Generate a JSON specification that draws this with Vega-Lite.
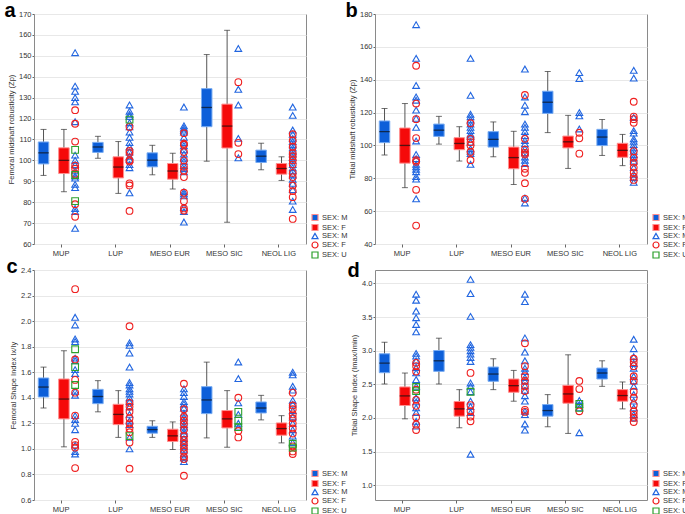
{
"$schema":"https://vega.github.io/schema/vega-lite/v6.json",
"padding":{"left":3,"top":0,"right":0,"bottom":0},
"datasets":{
"boxA":[
{"g":"MUP","s":"M","lo":92.8,"q1":98.3,"md":103.6,"q3":108.8,"hi":114.8},
{"g":"MUP","s":"F","lo":85,"q1":93.7,"md":100,"q3":106,"hi":114.8},
{"g":"LUP","s":"M","lo":101,"q1":103.8,"md":106.4,"q3":108.6,"hi":111.5},
{"g":"LUP","s":"F","lo":84.2,"q1":91.6,"md":96.8,"q3":101.7,"hi":109},
{"g":"MESO EUR","s":"M","lo":93.1,"q1":96.9,"md":100.1,"q3":103.6,"hi":107.2},
{"g":"MESO EUR","s":"F","lo":86.3,"q1":91,"md":94.9,"q3":98.5,"hi":103.4},
{"g":"MESO SIC","s":"M","lo":99.6,"q1":116.1,"md":125.3,"q3":134.3,"hi":150.6},
{"g":"MESO SIC","s":"F","lo":70.4,"q1":105.9,"md":116.4,"q3":126.9,"hi":162.2},
{"g":"NEOL LIG","s":"M","lo":95.5,"q1":99,"md":102,"q3":104.9,"hi":108.2},
{"g":"NEOL LIG","s":"F","lo":90.4,"q1":93.4,"md":96.1,"q3":98.5,"hi":101.7}],
"boxB":[
{"g":"MUP","s":"M","lo":94.2,"q1":101.7,"md":108.4,"q3":114.9,"hi":122.5},
{"g":"MUP","s":"F","lo":74.3,"q1":89.2,"md":100,"q3":110.6,"hi":125.5},
{"g":"LUP","s":"M","lo":100.8,"q1":105.5,"md":109.3,"q3":113,"hi":117.7},
{"g":"LUP","s":"F","lo":90.5,"q1":97.4,"md":101.2,"q3":104.7,"hi":111.4},
{"g":"MESO EUR","s":"M","lo":93.1,"q1":99,"md":103.7,"q3":108.4,"hi":114.3},
{"g":"MESO EUR","s":"F","lo":76.2,"q1":85.8,"md":92.6,"q3":99,"hi":108.6},
{"g":"MESO SIC","s":"M","lo":107.8,"q1":119.5,"md":126.3,"q3":133,"hi":145},
{"g":"MESO SIC","s":"F","lo":86,"q1":98.5,"md":102.2,"q3":105.7,"hi":118.3},
{"g":"NEOL LIG","s":"M","lo":93.9,"q1":99.9,"md":105.1,"q3":109.8,"hi":115.8},
{"g":"NEOL LIG","s":"F","lo":87.7,"q1":92.8,"md":97,"q3":101.3,"hi":106.7}],
"boxC":[
{"g":"MUP","s":"M","lo":1.32,"q1":1.406,"md":1.484,"q3":1.555,"hi":1.64},
{"g":"MUP","s":"F","lo":1.016,"q1":1.235,"md":1.39,"q3":1.547,"hi":1.768},
{"g":"LUP","s":"M","lo":1.29,"q1":1.354,"md":1.41,"q3":1.466,"hi":1.534},
{"g":"LUP","s":"F","lo":1.09,"q1":1.19,"md":1.27,"q3":1.349,"hi":1.456},
{"g":"MESO EUR","s":"M","lo":1.09,"q1":1.123,"md":1.151,"q3":1.177,"hi":1.22},
{"g":"MESO EUR","s":"F","lo":0.995,"q1":1.058,"md":1.102,"q3":1.154,"hi":1.211},
{"g":"MESO SIC","s":"M","lo":1.086,"q1":1.276,"md":1.383,"q3":1.487,"hi":1.679},
{"g":"MESO SIC","s":"F","lo":1.013,"q1":1.164,"md":1.235,"q3":1.3,"hi":1.456},
{"g":"NEOL LIG","s":"M","lo":1.227,"q1":1.281,"md":1.32,"q3":1.367,"hi":1.419},
{"g":"NEOL LIG","s":"F","lo":1.047,"q1":1.107,"md":1.159,"q3":1.203,"hi":1.26}],
"boxD":[
{"g":"MUP","s":"M","lo":2.505,"q1":2.673,"md":2.816,"q3":2.954,"hi":3.127},
{"g":"MUP","s":"F","lo":1.987,"q1":2.185,"md":2.328,"q3":2.461,"hi":2.668},
{"g":"LUP","s":"M","lo":2.505,"q1":2.693,"md":2.85,"q3":3.003,"hi":3.186},
{"g":"LUP","s":"F","lo":1.854,"q1":2.027,"md":2.135,"q3":2.244,"hi":2.421},
{"g":"MESO EUR","s":"M","lo":2.421,"q1":2.545,"md":2.653,"q3":2.757,"hi":2.88},
{"g":"MESO EUR","s":"F","lo":2.249,"q1":2.382,"md":2.48,"q3":2.579,"hi":2.707},
{"g":"MESO SIC","s":"M","lo":1.869,"q1":2.027,"md":2.11,"q3":2.199,"hi":2.347},
{"g":"MESO SIC","s":"F","lo":1.77,"q1":2.219,"md":2.357,"q3":2.485,"hi":2.939},
{"g":"NEOL LIG","s":"M","lo":2.47,"q1":2.579,"md":2.668,"q3":2.742,"hi":2.85},
{"g":"NEOL LIG","s":"F","lo":2.135,"q1":2.249,"md":2.333,"q3":2.421,"hi":2.535}],
"ptsA":[
{"g":"MUP","s":"M","v":151.5},{"g":"MUP","s":"M","v":135.5},{"g":"MUP","s":"M","v":133},{"g":"MUP","s":"M","v":130},{"g":"MUP","s":"M","v":128},{"g":"MUP","s":"M","v":118.5},{"g":"MUP","s":"M","v":102.5},{"g":"MUP","s":"M","v":100},{"g":"MUP","s":"M","v":98},{"g":"MUP","s":"M","v":95},{"g":"MUP","s":"M","v":92.5},{"g":"MUP","s":"M","v":91.5},{"g":"MUP","s":"M","v":88.5},{"g":"MUP","s":"M","v":87},{"g":"MUP","s":"M","v":77},{"g":"MUP","s":"M","v":75.5},{"g":"MUP","s":"M","v":67.5},
{"g":"MUP","s":"F","v":124},{"g":"MUP","s":"F","v":117.5},{"g":"MUP","s":"F","v":109},{"g":"MUP","s":"F","v":97.5},{"g":"MUP","s":"F","v":96},{"g":"MUP","s":"F","v":93.5},{"g":"MUP","s":"F","v":79},{"g":"MUP","s":"F","v":73},
{"g":"MUP","s":"U","v":105},{"g":"MUP","s":"U","v":93},{"g":"MUP","s":"U","v":80.5},
{"g":"LUP","s":"M","v":126.5},{"g":"LUP","s":"M","v":123.5},{"g":"LUP","s":"M","v":122},{"g":"LUP","s":"M","v":121},{"g":"LUP","s":"M","v":118},{"g":"LUP","s":"M","v":116},{"g":"LUP","s":"M","v":113.5},{"g":"LUP","s":"M","v":111},{"g":"LUP","s":"M","v":108.5},{"g":"LUP","s":"M","v":106.5},{"g":"LUP","s":"M","v":104},{"g":"LUP","s":"M","v":102},{"g":"LUP","s":"M","v":100.5},{"g":"LUP","s":"M","v":98},{"g":"LUP","s":"M","v":96.5},{"g":"LUP","s":"M","v":84.5},
{"g":"LUP","s":"F","v":116},{"g":"LUP","s":"F","v":104.5},{"g":"LUP","s":"F","v":103.5},{"g":"LUP","s":"F","v":100},{"g":"LUP","s":"F","v":99.5},{"g":"LUP","s":"F","v":89},{"g":"LUP","s":"F","v":88},{"g":"LUP","s":"F","v":75.8},
{"g":"LUP","s":"U","v":119.5},
{"g":"MESO EUR","s":"M","v":125.5},{"g":"MESO EUR","s":"M","v":116.5},{"g":"MESO EUR","s":"M","v":115.5},{"g":"MESO EUR","s":"M","v":114.5},{"g":"MESO EUR","s":"M","v":113.5},{"g":"MESO EUR","s":"M","v":111},{"g":"MESO EUR","s":"M","v":108.5},{"g":"MESO EUR","s":"M","v":107},{"g":"MESO EUR","s":"M","v":105},{"g":"MESO EUR","s":"M","v":103},{"g":"MESO EUR","s":"M","v":101},{"g":"MESO EUR","s":"M","v":99.5},{"g":"MESO EUR","s":"M","v":97.5},{"g":"MESO EUR","s":"M","v":96},{"g":"MESO EUR","s":"M","v":94.5},{"g":"MESO EUR","s":"M","v":85},{"g":"MESO EUR","s":"M","v":84},{"g":"MESO EUR","s":"M","v":83},{"g":"MESO EUR","s":"M","v":77.5},{"g":"MESO EUR","s":"M","v":75.5},{"g":"MESO EUR","s":"M","v":70.5},
{"g":"MESO EUR","s":"F","v":113},{"g":"MESO EUR","s":"F","v":108},{"g":"MESO EUR","s":"F","v":107.5},{"g":"MESO EUR","s":"F","v":104},{"g":"MESO EUR","s":"F","v":100},{"g":"MESO EUR","s":"F","v":97},{"g":"MESO EUR","s":"F","v":95},{"g":"MESO EUR","s":"F","v":92},{"g":"MESO EUR","s":"F","v":84.5},{"g":"MESO EUR","s":"F","v":80.5},{"g":"MESO EUR","s":"F","v":77},{"g":"MESO EUR","s":"F","v":76},
{"g":"MESO SIC","s":"M","v":153.5},{"g":"MESO SIC","s":"M","v":134},{"g":"MESO SIC","s":"M","v":126.5},{"g":"MESO SIC","s":"M","v":110.5},{"g":"MESO SIC","s":"M","v":101.2},
{"g":"MESO SIC","s":"F","v":137.4},{"g":"MESO SIC","s":"F","v":108.4},{"g":"MESO SIC","s":"F","v":103},
{"g":"NEOL LIG","s":"M","v":125.5},{"g":"NEOL LIG","s":"M","v":121.5},{"g":"NEOL LIG","s":"M","v":114.5},{"g":"NEOL LIG","s":"M","v":112.5},{"g":"NEOL LIG","s":"M","v":110.5},{"g":"NEOL LIG","s":"M","v":109},{"g":"NEOL LIG","s":"M","v":107.5},{"g":"NEOL LIG","s":"M","v":106},{"g":"NEOL LIG","s":"M","v":104.5},{"g":"NEOL LIG","s":"M","v":103},{"g":"NEOL LIG","s":"M","v":101.5},{"g":"NEOL LIG","s":"M","v":100},{"g":"NEOL LIG","s":"M","v":98},{"g":"NEOL LIG","s":"M","v":96.5},{"g":"NEOL LIG","s":"M","v":95},{"g":"NEOL LIG","s":"M","v":93},{"g":"NEOL LIG","s":"M","v":91},{"g":"NEOL LIG","s":"M","v":89},{"g":"NEOL LIG","s":"M","v":86},{"g":"NEOL LIG","s":"M","v":80.5},{"g":"NEOL LIG","s":"M","v":76.5},
{"g":"NEOL LIG","s":"F","v":112.5},{"g":"NEOL LIG","s":"F","v":109.5},{"g":"NEOL LIG","s":"F","v":106.5},{"g":"NEOL LIG","s":"F","v":103.5},{"g":"NEOL LIG","s":"F","v":102},{"g":"NEOL LIG","s":"F","v":100},{"g":"NEOL LIG","s":"F","v":98},{"g":"NEOL LIG","s":"F","v":94},{"g":"NEOL LIG","s":"F","v":92},{"g":"NEOL LIG","s":"F","v":88},{"g":"NEOL LIG","s":"F","v":85.3},{"g":"NEOL LIG","s":"F","v":82.4},{"g":"NEOL LIG","s":"F","v":72}],
"ptsB":[
{"g":"MUP","s":"M","v":173.5},{"g":"MUP","s":"M","v":153},{"g":"MUP","s":"M","v":136.5},{"g":"MUP","s":"M","v":129.5},{"g":"MUP","s":"M","v":127.5},{"g":"MUP","s":"M","v":121.5},{"g":"MUP","s":"M","v":116.5},{"g":"MUP","s":"M","v":111},{"g":"MUP","s":"M","v":102.7},{"g":"MUP","s":"M","v":94.5},{"g":"MUP","s":"M","v":92},{"g":"MUP","s":"M","v":88.5},{"g":"MUP","s":"M","v":87},{"g":"MUP","s":"M","v":85.5},{"g":"MUP","s":"M","v":84},{"g":"MUP","s":"M","v":81},{"g":"MUP","s":"M","v":79.5},{"g":"MUP","s":"M","v":67.5},
{"g":"MUP","s":"F","v":148.5},{"g":"MUP","s":"F","v":125.5},{"g":"MUP","s":"F","v":116},{"g":"MUP","s":"F","v":104.5},{"g":"MUP","s":"F","v":91},{"g":"MUP","s":"F","v":90},{"g":"MUP","s":"F","v":73},{"g":"MUP","s":"F","v":51.2},
{"g":"LUP","s":"M","v":153},{"g":"LUP","s":"M","v":130.5},{"g":"LUP","s":"M","v":119},{"g":"LUP","s":"M","v":117.5},{"g":"LUP","s":"M","v":115.5},{"g":"LUP","s":"M","v":113},{"g":"LUP","s":"M","v":111},{"g":"LUP","s":"M","v":109},{"g":"LUP","s":"M","v":107},{"g":"LUP","s":"M","v":105.5},{"g":"LUP","s":"M","v":102},{"g":"LUP","s":"M","v":98},{"g":"LUP","s":"M","v":96.5},{"g":"LUP","s":"M","v":95},{"g":"LUP","s":"M","v":88.5},
{"g":"LUP","s":"F","v":113.5},{"g":"LUP","s":"F","v":104},{"g":"LUP","s":"F","v":102},{"g":"LUP","s":"F","v":100},{"g":"LUP","s":"F","v":96},{"g":"LUP","s":"F","v":91},
{"g":"MESO EUR","s":"M","v":146.5},{"g":"MESO EUR","s":"M","v":129.5},{"g":"MESO EUR","s":"M","v":124.5},{"g":"MESO EUR","s":"M","v":120.5},{"g":"MESO EUR","s":"M","v":113},{"g":"MESO EUR","s":"M","v":111},{"g":"MESO EUR","s":"M","v":108.5},{"g":"MESO EUR","s":"M","v":106},{"g":"MESO EUR","s":"M","v":103},{"g":"MESO EUR","s":"M","v":101},{"g":"MESO EUR","s":"M","v":98},{"g":"MESO EUR","s":"M","v":95.5},{"g":"MESO EUR","s":"M","v":93},{"g":"MESO EUR","s":"M","v":91},{"g":"MESO EUR","s":"M","v":89},{"g":"MESO EUR","s":"M","v":68},{"g":"MESO EUR","s":"M","v":65},
{"g":"MESO EUR","s":"F","v":130.7},{"g":"MESO EUR","s":"F","v":104},{"g":"MESO EUR","s":"F","v":97.5},{"g":"MESO EUR","s":"F","v":95.5},{"g":"MESO EUR","s":"F","v":94.5},{"g":"MESO EUR","s":"F","v":85.8},{"g":"MESO EUR","s":"F","v":83.3},{"g":"MESO EUR","s":"F","v":77},{"g":"MESO EUR","s":"F","v":67.5},
{"g":"MESO SIC","s":"M","v":144.3},{"g":"MESO SIC","s":"M","v":140.7},{"g":"MESO SIC","s":"M","v":120},{"g":"MESO SIC","s":"M","v":118},{"g":"MESO SIC","s":"M","v":110},
{"g":"MESO SIC","s":"F","v":107.7},{"g":"MESO SIC","s":"F","v":104.3},{"g":"MESO SIC","s":"F","v":95},
{"g":"NEOL LIG","s":"M","v":145.7},{"g":"NEOL LIG","s":"M","v":141},{"g":"NEOL LIG","s":"M","v":117},{"g":"NEOL LIG","s":"M","v":109},{"g":"NEOL LIG","s":"M","v":107.5},{"g":"NEOL LIG","s":"M","v":104},{"g":"NEOL LIG","s":"M","v":102.5},{"g":"NEOL LIG","s":"M","v":100.5},{"g":"NEOL LIG","s":"M","v":98.5},{"g":"NEOL LIG","s":"M","v":96.5},{"g":"NEOL LIG","s":"M","v":94.5},{"g":"NEOL LIG","s":"M","v":92.5},{"g":"NEOL LIG","s":"M","v":90.5},{"g":"NEOL LIG","s":"M","v":86.5},{"g":"NEOL LIG","s":"M","v":82.5},{"g":"NEOL LIG","s":"M","v":80.5},{"g":"NEOL LIG","s":"M","v":77.5},
{"g":"NEOL LIG","s":"F","v":126.6},{"g":"NEOL LIG","s":"F","v":117.5},{"g":"NEOL LIG","s":"F","v":116},{"g":"NEOL LIG","s":"F","v":113.8},{"g":"NEOL LIG","s":"F","v":96.5},{"g":"NEOL LIG","s":"F","v":92.5},{"g":"NEOL LIG","s":"F","v":89.5},{"g":"NEOL LIG","s":"F","v":86.5},{"g":"NEOL LIG","s":"F","v":83.5},{"g":"NEOL LIG","s":"F","v":81},{"g":"NEOL LIG","s":"F","v":79}],
"ptsC":[
{"g":"MUP","s":"M","v":2.03},{"g":"MUP","s":"M","v":1.97},{"g":"MUP","s":"M","v":1.86},{"g":"MUP","s":"M","v":1.84},{"g":"MUP","s":"M","v":1.71},{"g":"MUP","s":"M","v":1.69},{"g":"MUP","s":"M","v":1.62},{"g":"MUP","s":"M","v":1.59},{"g":"MUP","s":"M","v":1.45},{"g":"MUP","s":"M","v":1.42},{"g":"MUP","s":"M","v":1.26},{"g":"MUP","s":"M","v":1.23},{"g":"MUP","s":"M","v":1.2},{"g":"MUP","s":"M","v":1.15},{"g":"MUP","s":"M","v":1.03},{"g":"MUP","s":"M","v":0.98},{"g":"MUP","s":"M","v":0.96},
{"g":"MUP","s":"F","v":2.25},{"g":"MUP","s":"F","v":1.7},{"g":"MUP","s":"F","v":1.54},{"g":"MUP","s":"F","v":1.44},{"g":"MUP","s":"F","v":1.26},{"g":"MUP","s":"F","v":1.055},{"g":"MUP","s":"F","v":1.03},{"g":"MUP","s":"F","v":1.01},{"g":"MUP","s":"F","v":0.85},
{"g":"MUP","s":"U","v":1.78},{"g":"MUP","s":"U","v":1.64},{"g":"MUP","s":"U","v":1.5},
{"g":"LUP","s":"M","v":1.83},{"g":"LUP","s":"M","v":1.81},{"g":"LUP","s":"M","v":1.75},{"g":"LUP","s":"M","v":1.64},{"g":"LUP","s":"M","v":1.52},{"g":"LUP","s":"M","v":1.5},{"g":"LUP","s":"M","v":1.47},{"g":"LUP","s":"M","v":1.45},{"g":"LUP","s":"M","v":1.43},{"g":"LUP","s":"M","v":1.4},{"g":"LUP","s":"M","v":1.37},{"g":"LUP","s":"M","v":1.33},{"g":"LUP","s":"M","v":1.27},{"g":"LUP","s":"M","v":1.22},{"g":"LUP","s":"M","v":1.19},{"g":"LUP","s":"M","v":1.09},{"g":"LUP","s":"M","v":1.0},
{"g":"LUP","s":"F","v":1.96},{"g":"LUP","s":"F","v":1.36},{"g":"LUP","s":"F","v":1.33},{"g":"LUP","s":"F","v":1.29},{"g":"LUP","s":"F","v":1.24},{"g":"LUP","s":"F","v":1.2},{"g":"LUP","s":"F","v":1.16},{"g":"LUP","s":"F","v":1.13},{"g":"LUP","s":"F","v":1.05},{"g":"LUP","s":"F","v":0.845},
{"g":"LUP","s":"U","v":1.1},
{"g":"MESO EUR","s":"M","v":1.47},{"g":"MESO EUR","s":"M","v":1.44},{"g":"MESO EUR","s":"M","v":1.41},{"g":"MESO EUR","s":"M","v":1.37},{"g":"MESO EUR","s":"M","v":1.35},{"g":"MESO EUR","s":"M","v":1.32},{"g":"MESO EUR","s":"M","v":1.28},{"g":"MESO EUR","s":"M","v":1.25},{"g":"MESO EUR","s":"M","v":1.22},{"g":"MESO EUR","s":"M","v":1.19},{"g":"MESO EUR","s":"M","v":1.17},{"g":"MESO EUR","s":"M","v":1.14},{"g":"MESO EUR","s":"M","v":1.12},{"g":"MESO EUR","s":"M","v":1.08},{"g":"MESO EUR","s":"M","v":1.05},{"g":"MESO EUR","s":"M","v":1.02},{"g":"MESO EUR","s":"M","v":0.99},{"g":"MESO EUR","s":"M","v":0.96},{"g":"MESO EUR","s":"M","v":0.93},{"g":"MESO EUR","s":"M","v":0.9},
{"g":"MESO EUR","s":"F","v":1.51},{"g":"MESO EUR","s":"F","v":1.31},{"g":"MESO EUR","s":"F","v":1.25},{"g":"MESO EUR","s":"F","v":1.22},{"g":"MESO EUR","s":"F","v":1.19},{"g":"MESO EUR","s":"F","v":1.15},{"g":"MESO EUR","s":"F","v":1.1},{"g":"MESO EUR","s":"F","v":1.07},{"g":"MESO EUR","s":"F","v":1.04},{"g":"MESO EUR","s":"F","v":1.01},{"g":"MESO EUR","s":"F","v":0.98},{"g":"MESO EUR","s":"F","v":0.94},{"g":"MESO EUR","s":"F","v":0.92},{"g":"MESO EUR","s":"F","v":0.79},
{"g":"MESO SIC","s":"M","v":1.68},{"g":"MESO SIC","s":"M","v":1.55},{"g":"MESO SIC","s":"M","v":1.36},{"g":"MESO SIC","s":"M","v":1.27},{"g":"MESO SIC","s":"M","v":1.2},{"g":"MESO SIC","s":"M","v":1.17},
{"g":"MESO SIC","s":"F","v":1.4},{"g":"MESO SIC","s":"F","v":1.14},{"g":"MESO SIC","s":"F","v":1.09},
{"g":"MESO SIC","s":"U","v":1.29},{"g":"MESO SIC","s":"U","v":1.22},{"g":"MESO SIC","s":"U","v":1.17},
{"g":"NEOL LIG","s":"M","v":1.6},{"g":"NEOL LIG","s":"M","v":1.58},{"g":"NEOL LIG","s":"M","v":1.49},{"g":"NEOL LIG","s":"M","v":1.46},{"g":"NEOL LIG","s":"M","v":1.38},{"g":"NEOL LIG","s":"M","v":1.35},{"g":"NEOL LIG","s":"M","v":1.3},{"g":"NEOL LIG","s":"M","v":1.25},{"g":"NEOL LIG","s":"M","v":1.2},{"g":"NEOL LIG","s":"M","v":1.15},{"g":"NEOL LIG","s":"M","v":1.1},{"g":"NEOL LIG","s":"M","v":1.05},
{"g":"NEOL LIG","s":"F","v":1.44},{"g":"NEOL LIG","s":"F","v":1.34},{"g":"NEOL LIG","s":"F","v":1.31},{"g":"NEOL LIG","s":"F","v":1.27},{"g":"NEOL LIG","s":"F","v":1.24},{"g":"NEOL LIG","s":"F","v":1.2},{"g":"NEOL LIG","s":"F","v":1.16},{"g":"NEOL LIG","s":"F","v":1.12},{"g":"NEOL LIG","s":"F","v":1.02},{"g":"NEOL LIG","s":"F","v":0.98},{"g":"NEOL LIG","s":"F","v":0.96},
{"g":"NEOL LIG","s":"U","v":1.04},{"g":"NEOL LIG","s":"U","v":1.01}],
"ptsD":[
{"g":"MUP","s":"M","v":3.84},{"g":"MUP","s":"M","v":3.75},{"g":"MUP","s":"M","v":3.59},{"g":"MUP","s":"M","v":3.49},{"g":"MUP","s":"M","v":3.39},{"g":"MUP","s":"M","v":3.28},{"g":"MUP","s":"M","v":2.96},{"g":"MUP","s":"M","v":2.92},{"g":"MUP","s":"M","v":2.85},{"g":"MUP","s":"M","v":2.75},{"g":"MUP","s":"M","v":2.67},{"g":"MUP","s":"M","v":2.57},{"g":"MUP","s":"M","v":2.47},{"g":"MUP","s":"M","v":2.3},{"g":"MUP","s":"M","v":2.24},{"g":"MUP","s":"M","v":2.15},{"g":"MUP","s":"M","v":2.08},{"g":"MUP","s":"M","v":1.95},{"g":"MUP","s":"M","v":1.88},
{"g":"MUP","s":"F","v":2.82},{"g":"MUP","s":"F","v":2.77},{"g":"MUP","s":"F","v":2.69},{"g":"MUP","s":"F","v":2.42},{"g":"MUP","s":"F","v":2.27},{"g":"MUP","s":"F","v":2.18},{"g":"MUP","s":"F","v":2.01},{"g":"MUP","s":"F","v":1.9},{"g":"MUP","s":"F","v":1.82},
{"g":"MUP","s":"U","v":2.46},{"g":"MUP","s":"U","v":2.4},
{"g":"LUP","s":"M","v":4.06},{"g":"LUP","s":"M","v":3.85},{"g":"LUP","s":"M","v":3.51},{"g":"LUP","s":"M","v":3.09},{"g":"LUP","s":"M","v":3.05},{"g":"LUP","s":"M","v":3.0},{"g":"LUP","s":"M","v":2.95},{"g":"LUP","s":"M","v":2.9},{"g":"LUP","s":"M","v":2.84},{"g":"LUP","s":"M","v":2.52},{"g":"LUP","s":"M","v":2.47},{"g":"LUP","s":"M","v":2.39},{"g":"LUP","s":"M","v":2.25},{"g":"LUP","s":"M","v":2.17},{"g":"LUP","s":"M","v":2.08},{"g":"LUP","s":"M","v":1.46},
{"g":"LUP","s":"F","v":2.67},{"g":"LUP","s":"F","v":2.19},{"g":"LUP","s":"F","v":2.1},{"g":"LUP","s":"F","v":2.02},{"g":"LUP","s":"F","v":1.95},
{"g":"LUP","s":"U","v":2.39},
{"g":"MESO EUR","s":"M","v":3.84},{"g":"MESO EUR","s":"M","v":3.73},{"g":"MESO EUR","s":"M","v":3.19},{"g":"MESO EUR","s":"M","v":2.98},{"g":"MESO EUR","s":"M","v":2.85},{"g":"MESO EUR","s":"M","v":2.74},{"g":"MESO EUR","s":"M","v":2.69},{"g":"MESO EUR","s":"M","v":2.6},{"g":"MESO EUR","s":"M","v":2.55},{"g":"MESO EUR","s":"M","v":2.48},{"g":"MESO EUR","s":"M","v":2.41},{"g":"MESO EUR","s":"M","v":2.33},{"g":"MESO EUR","s":"M","v":2.25},{"g":"MESO EUR","s":"M","v":2.1},{"g":"MESO EUR","s":"M","v":2.05},{"g":"MESO EUR","s":"M","v":1.91},{"g":"MESO EUR","s":"M","v":1.82},
{"g":"MESO EUR","s":"F","v":3.11},{"g":"MESO EUR","s":"F","v":2.77},{"g":"MESO EUR","s":"F","v":2.62},{"g":"MESO EUR","s":"F","v":2.55},{"g":"MESO EUR","s":"F","v":2.47},{"g":"MESO EUR","s":"F","v":2.4},{"g":"MESO EUR","s":"F","v":2.12},{"g":"MESO EUR","s":"F","v":2.09},
{"g":"MESO SIC","s":"M","v":2.26},{"g":"MESO SIC","s":"M","v":2.2},{"g":"MESO SIC","s":"M","v":2.15},{"g":"MESO SIC","s":"M","v":1.78},
{"g":"MESO SIC","s":"F","v":2.55},{"g":"MESO SIC","s":"F","v":2.43},{"g":"MESO SIC","s":"F","v":2.1},
{"g":"MESO SIC","s":"U","v":2.21},{"g":"MESO SIC","s":"U","v":2.15},
{"g":"NEOL LIG","s":"M","v":3.17},{"g":"NEOL LIG","s":"M","v":3.03},{"g":"NEOL LIG","s":"M","v":2.91},{"g":"NEOL LIG","s":"M","v":2.81},{"g":"NEOL LIG","s":"M","v":2.74},{"g":"NEOL LIG","s":"M","v":2.62},{"g":"NEOL LIG","s":"M","v":2.55},{"g":"NEOL LIG","s":"M","v":2.47},{"g":"NEOL LIG","s":"M","v":2.35},{"g":"NEOL LIG","s":"M","v":2.25},{"g":"NEOL LIG","s":"M","v":2.15},{"g":"NEOL LIG","s":"M","v":2.05},{"g":"NEOL LIG","s":"M","v":2.0},
{"g":"NEOL LIG","s":"F","v":2.88},{"g":"NEOL LIG","s":"F","v":2.83},{"g":"NEOL LIG","s":"F","v":2.77},{"g":"NEOL LIG","s":"F","v":2.62},{"g":"NEOL LIG","s":"F","v":2.55},{"g":"NEOL LIG","s":"F","v":2.39},{"g":"NEOL LIG","s":"F","v":2.3},{"g":"NEOL LIG","s":"F","v":2.19},{"g":"NEOL LIG","s":"F","v":2.1},{"g":"NEOL LIG","s":"F","v":2.05},{"g":"NEOL LIG","s":"F","v":2.0},{"g":"NEOL LIG","s":"F","v":1.94}]
},
"columns":2,
"spacing":{"row":-6,"column":-5},
"resolve":{"scale":{"fill":"independent","stroke":"independent","shape":"independent","xOffset":"independent"},"legend":{"fill":"independent","stroke":"independent","shape":"independent"}},
"concat":[
{"width":272,"height":230,"title":{"text":"a"},
"encoding":{"x":{"field":"g","type":"nominal","sort":["MUP","LUP","MESO EUR","MESO SIC","NEOL LIG"],"scale":{"paddingInner":0,"paddingOuter":0},"title":null}},
"layer":[
{"data":{"name":"boxA"},"mark":{"type":"rule","color":"#555555","strokeWidth":1},"encoding":{"xOffset":{"field":"s","type":"nominal","scale":{"domain":["M","_1","_2","F","_3","P"],"paddingInner":0,"paddingOuter":1.55,"align":0.45}},"y":{"field":"lo","type":"quantitative","title":"Femoral midshaft robusticity (Zp)","scale":{"domain":[60,170],"nice":false,"zero":false},"axis":{"values":[60,70,80,90,100,110,120,130,140,150,160,170],"format":"d","labelOverlap":false}},"y2":{"field":"hi"}}},
{"data":{"name":"boxA"},"mark":{"type":"tick","color":"#333333","size":6,"thickness":1},"encoding":{"xOffset":{"field":"s","type":"nominal"},"y":{"field":"lo","type":"quantitative","title":"Femoral midshaft robusticity (Zp)","scale":{"domain":[60,170],"nice":false,"zero":false},"axis":{"values":[60,70,80,90,100,110,120,130,140,150,160,170],"format":"d","labelOverlap":false}}}},
{"data":{"name":"boxA"},"mark":{"type":"tick","color":"#333333","size":6,"thickness":1},"encoding":{"xOffset":{"field":"s","type":"nominal"},"y":{"field":"hi","type":"quantitative","title":"Femoral midshaft robusticity (Zp)","scale":{"domain":[60,170],"nice":false,"zero":false},"axis":{"values":[60,70,80,90,100,110,120,130,140,150,160,170],"format":"d","labelOverlap":false}}}},
{"data":{"name":"boxA"},"mark":{"type":"bar","width":10.5,"strokeWidth":1},"encoding":{"xOffset":{"field":"s","type":"nominal"},"y":{"field":"q1","type":"quantitative","title":"Femoral midshaft robusticity (Zp)","scale":{"domain":[60,170],"nice":false,"zero":false},"axis":{"values":[60,70,80,90,100,110,120,130,140,150,160,170],"format":"d","labelOverlap":false}},"y2":{"field":"q3"},"fill":{"field":"s","type":"nominal","scale":{"domain":["M","F"],"range":["#0d5fd9","#f50a0a"]},"legend":{"title":null,"legendX":277,"legendY":199.5,"symbolType":"square","symbolSize":36,"rowPadding":-6,"labelExpr":"'SEX: ' + datum.label"}},"stroke":{"condition":{"test":"datum.s === 'M'","value":"#79acf2"},"value":"#ff8f8f"}}},
{"data":{"name":"boxA"},"mark":{"type":"tick","color":"#111111","size":10.5,"thickness":1.3},"encoding":{"xOffset":{"field":"s","type":"nominal"},"y":{"field":"md","type":"quantitative","title":"Femoral midshaft robusticity (Zp)","scale":{"domain":[60,170],"nice":false,"zero":false},"axis":{"values":[60,70,80,90,100,110,120,130,140,150,160,170],"format":"d","labelOverlap":false}}}},
{"data":{"name":"ptsA"},"mark":{"type":"point","filled":false,"size":45,"strokeWidth":1.1,"opacity":1},"encoding":{"x":{"field":"g","type":"nominal","sort":["MUP","LUP","MESO EUR","MESO SIC","NEOL LIG"],"bandPosition":0.756,"title":null},"y":{"field":"v","type":"quantitative","title":"Femoral midshaft robusticity (Zp)","scale":{"domain":[60,170],"nice":false,"zero":false},"axis":{"values":[60,70,80,90,100,110,120,130,140,150,160,170],"format":"d","labelOverlap":false}},"stroke":{"field":"s","type":"nominal","scale":{"domain":["M","F","U"],"range":["#2266e0","#ef2020","#2ca02c"]},"legend":{"title":null,"legendX":277,"legendY":218,"symbolSize":36,"rowPadding":-6,"labelExpr":"'SEX: ' + datum.label"}},"shape":{"field":"s","type":"nominal","scale":{"domain":["M","F","U"],"range":["triangle-up","circle","square"]},"legend":{"title":null,"legendX":277,"legendY":218,"symbolSize":36,"rowPadding":-6,"labelExpr":"'SEX: ' + datum.label"}}}}
]},
{"width":272,"height":230,"title":{"text":"b"},
"encoding":{"x":{"field":"g","type":"nominal","sort":["MUP","LUP","MESO EUR","MESO SIC","NEOL LIG"],"scale":{"paddingInner":0,"paddingOuter":0},"title":null}},
"layer":[
{"data":{"name":"boxB"},"mark":{"type":"rule","color":"#555555","strokeWidth":1},"encoding":{"xOffset":{"field":"s","type":"nominal","scale":{"domain":["M","_1","_2","F","_3","P"],"paddingInner":0,"paddingOuter":1.55,"align":0.45}},"y":{"field":"lo","type":"quantitative","title":"Tibial midshaft robusticity (Zp)","scale":{"domain":[40,180],"nice":false,"zero":false},"axis":{"values":[40,60,80,100,120,140,160,180],"format":"d","labelOverlap":false}},"y2":{"field":"hi"}}},
{"data":{"name":"boxB"},"mark":{"type":"tick","color":"#333333","size":6,"thickness":1},"encoding":{"xOffset":{"field":"s","type":"nominal"},"y":{"field":"lo","type":"quantitative","title":"Tibial midshaft robusticity (Zp)","scale":{"domain":[40,180],"nice":false,"zero":false},"axis":{"values":[40,60,80,100,120,140,160,180],"format":"d","labelOverlap":false}}}},
{"data":{"name":"boxB"},"mark":{"type":"tick","color":"#333333","size":6,"thickness":1},"encoding":{"xOffset":{"field":"s","type":"nominal"},"y":{"field":"hi","type":"quantitative","title":"Tibial midshaft robusticity (Zp)","scale":{"domain":[40,180],"nice":false,"zero":false},"axis":{"values":[40,60,80,100,120,140,160,180],"format":"d","labelOverlap":false}}}},
{"data":{"name":"boxB"},"mark":{"type":"bar","width":10.5,"strokeWidth":1},"encoding":{"xOffset":{"field":"s","type":"nominal"},"y":{"field":"q1","type":"quantitative","title":"Tibial midshaft robusticity (Zp)","scale":{"domain":[40,180],"nice":false,"zero":false},"axis":{"values":[40,60,80,100,120,140,160,180],"format":"d","labelOverlap":false}},"y2":{"field":"q3"},"fill":{"field":"s","type":"nominal","scale":{"domain":["M","F"],"range":["#0d5fd9","#f50a0a"]},"legend":{"title":null,"legendX":277,"legendY":199.5,"symbolType":"square","symbolSize":36,"rowPadding":-6,"labelExpr":"'SEX: ' + datum.label"}},"stroke":{"condition":{"test":"datum.s === 'M'","value":"#79acf2"},"value":"#ff8f8f"}}},
{"data":{"name":"boxB"},"mark":{"type":"tick","color":"#111111","size":10.5,"thickness":1.3},"encoding":{"xOffset":{"field":"s","type":"nominal"},"y":{"field":"md","type":"quantitative","title":"Tibial midshaft robusticity (Zp)","scale":{"domain":[40,180],"nice":false,"zero":false},"axis":{"values":[40,60,80,100,120,140,160,180],"format":"d","labelOverlap":false}}}},
{"data":{"name":"ptsB"},"mark":{"type":"point","filled":false,"size":45,"strokeWidth":1.1,"opacity":1},"encoding":{"x":{"field":"g","type":"nominal","sort":["MUP","LUP","MESO EUR","MESO SIC","NEOL LIG"],"bandPosition":0.756,"title":null},"y":{"field":"v","type":"quantitative","title":"Tibial midshaft robusticity (Zp)","scale":{"domain":[40,180],"nice":false,"zero":false},"axis":{"values":[40,60,80,100,120,140,160,180],"format":"d","labelOverlap":false}},"stroke":{"field":"s","type":"nominal","scale":{"domain":["M","F","U"],"range":["#2266e0","#ef2020","#2ca02c"]},"legend":{"title":null,"legendX":277,"legendY":218,"symbolSize":36,"rowPadding":-6,"labelExpr":"'SEX: ' + datum.label"}},"shape":{"field":"s","type":"nominal","scale":{"domain":["M","F","U"],"range":["triangle-up","circle","square"]},"legend":{"title":null,"legendX":277,"legendY":218,"symbolSize":36,"rowPadding":-6,"labelExpr":"'SEX: ' + datum.label"}}}}
]},
{"width":272,"height":230,"title":{"text":"c"},
"encoding":{"x":{"field":"g","type":"nominal","sort":["MUP","LUP","MESO EUR","MESO SIC","NEOL LIG"],"scale":{"paddingInner":0,"paddingOuter":0},"title":null}},
"layer":[
{"data":{"name":"boxC"},"mark":{"type":"rule","color":"#555555","strokeWidth":1},"encoding":{"xOffset":{"field":"s","type":"nominal","scale":{"domain":["M","_1","_2","F","_3","P"],"paddingInner":0,"paddingOuter":1.55,"align":0.45}},"y":{"field":"lo","type":"quantitative","title":"Femoral Shape Index Ix/Iy","scale":{"domain":[0.6,2.4],"nice":false,"zero":false},"axis":{"values":[0.6,0.8,1.0,1.2,1.4,1.6,1.8,2.0,2.2,2.4],"format":".1f","labelOverlap":false}},"y2":{"field":"hi"}}},
{"data":{"name":"boxC"},"mark":{"type":"tick","color":"#333333","size":6,"thickness":1},"encoding":{"xOffset":{"field":"s","type":"nominal"},"y":{"field":"lo","type":"quantitative","title":"Femoral Shape Index Ix/Iy","scale":{"domain":[0.6,2.4],"nice":false,"zero":false},"axis":{"values":[0.6,0.8,1.0,1.2,1.4,1.6,1.8,2.0,2.2,2.4],"format":".1f","labelOverlap":false}}}},
{"data":{"name":"boxC"},"mark":{"type":"tick","color":"#333333","size":6,"thickness":1},"encoding":{"xOffset":{"field":"s","type":"nominal"},"y":{"field":"hi","type":"quantitative","title":"Femoral Shape Index Ix/Iy","scale":{"domain":[0.6,2.4],"nice":false,"zero":false},"axis":{"values":[0.6,0.8,1.0,1.2,1.4,1.6,1.8,2.0,2.2,2.4],"format":".1f","labelOverlap":false}}}},
{"data":{"name":"boxC"},"mark":{"type":"bar","width":10.5,"strokeWidth":1},"encoding":{"xOffset":{"field":"s","type":"nominal"},"y":{"field":"q1","type":"quantitative","title":"Femoral Shape Index Ix/Iy","scale":{"domain":[0.6,2.4],"nice":false,"zero":false},"axis":{"values":[0.6,0.8,1.0,1.2,1.4,1.6,1.8,2.0,2.2,2.4],"format":".1f","labelOverlap":false}},"y2":{"field":"q3"},"fill":{"field":"s","type":"nominal","scale":{"domain":["M","F"],"range":["#0d5fd9","#f50a0a"]},"legend":{"title":null,"legendX":277,"legendY":199.5,"symbolType":"square","symbolSize":36,"rowPadding":-6,"labelExpr":"'SEX: ' + datum.label"}},"stroke":{"condition":{"test":"datum.s === 'M'","value":"#79acf2"},"value":"#ff8f8f"}}},
{"data":{"name":"boxC"},"mark":{"type":"tick","color":"#111111","size":10.5,"thickness":1.3},"encoding":{"xOffset":{"field":"s","type":"nominal"},"y":{"field":"md","type":"quantitative","title":"Femoral Shape Index Ix/Iy","scale":{"domain":[0.6,2.4],"nice":false,"zero":false},"axis":{"values":[0.6,0.8,1.0,1.2,1.4,1.6,1.8,2.0,2.2,2.4],"format":".1f","labelOverlap":false}}}},
{"data":{"name":"ptsC"},"mark":{"type":"point","filled":false,"size":45,"strokeWidth":1.1,"opacity":1},"encoding":{"x":{"field":"g","type":"nominal","sort":["MUP","LUP","MESO EUR","MESO SIC","NEOL LIG"],"bandPosition":0.756,"title":null},"y":{"field":"v","type":"quantitative","title":"Femoral Shape Index Ix/Iy","scale":{"domain":[0.6,2.4],"nice":false,"zero":false},"axis":{"values":[0.6,0.8,1.0,1.2,1.4,1.6,1.8,2.0,2.2,2.4],"format":".1f","labelOverlap":false}},"stroke":{"field":"s","type":"nominal","scale":{"domain":["M","F","U"],"range":["#2266e0","#ef2020","#2ca02c"]},"legend":{"title":null,"legendX":277,"legendY":218,"symbolSize":36,"rowPadding":-6,"labelExpr":"'SEX: ' + datum.label"}},"shape":{"field":"s","type":"nominal","scale":{"domain":["M","F","U"],"range":["triangle-up","circle","square"]},"legend":{"title":null,"legendX":277,"legendY":218,"symbolSize":36,"rowPadding":-6,"labelExpr":"'SEX: ' + datum.label"}}}}
]},
{"width":272,"height":230,"title":{"text":"d"},
"encoding":{"x":{"field":"g","type":"nominal","sort":["MUP","LUP","MESO EUR","MESO SIC","NEOL LIG"],"scale":{"paddingInner":0,"paddingOuter":0},"title":null}},
"layer":[
{"data":{"name":"boxD"},"mark":{"type":"rule","color":"#555555","strokeWidth":1},"encoding":{"xOffset":{"field":"s","type":"nominal","scale":{"domain":["M","_1","_2","F","_3","P"],"paddingInner":0,"paddingOuter":1.55,"align":0.45}},"y":{"field":"lo","type":"quantitative","title":"Tibial Shape Index (Imax/Imin)","scale":{"domain":[0.78,4.2],"nice":false,"zero":false},"axis":{"values":[1.0,1.5,2.0,2.5,3.0,3.5,4.0],"format":".1f","labelOverlap":false}},"y2":{"field":"hi"}}},
{"data":{"name":"boxD"},"mark":{"type":"tick","color":"#333333","size":6,"thickness":1},"encoding":{"xOffset":{"field":"s","type":"nominal"},"y":{"field":"lo","type":"quantitative","title":"Tibial Shape Index (Imax/Imin)","scale":{"domain":[0.78,4.2],"nice":false,"zero":false},"axis":{"values":[1.0,1.5,2.0,2.5,3.0,3.5,4.0],"format":".1f","labelOverlap":false}}}},
{"data":{"name":"boxD"},"mark":{"type":"tick","color":"#333333","size":6,"thickness":1},"encoding":{"xOffset":{"field":"s","type":"nominal"},"y":{"field":"hi","type":"quantitative","title":"Tibial Shape Index (Imax/Imin)","scale":{"domain":[0.78,4.2],"nice":false,"zero":false},"axis":{"values":[1.0,1.5,2.0,2.5,3.0,3.5,4.0],"format":".1f","labelOverlap":false}}}},
{"data":{"name":"boxD"},"mark":{"type":"bar","width":10.5,"strokeWidth":1},"encoding":{"xOffset":{"field":"s","type":"nominal"},"y":{"field":"q1","type":"quantitative","title":"Tibial Shape Index (Imax/Imin)","scale":{"domain":[0.78,4.2],"nice":false,"zero":false},"axis":{"values":[1.0,1.5,2.0,2.5,3.0,3.5,4.0],"format":".1f","labelOverlap":false}},"y2":{"field":"q3"},"fill":{"field":"s","type":"nominal","scale":{"domain":["M","F"],"range":["#0d5fd9","#f50a0a"]},"legend":{"title":null,"legendX":277,"legendY":199.5,"symbolType":"square","symbolSize":36,"rowPadding":-6,"labelExpr":"'SEX: ' + datum.label"}},"stroke":{"condition":{"test":"datum.s === 'M'","value":"#79acf2"},"value":"#ff8f8f"}}},
{"data":{"name":"boxD"},"mark":{"type":"tick","color":"#111111","size":10.5,"thickness":1.3},"encoding":{"xOffset":{"field":"s","type":"nominal"},"y":{"field":"md","type":"quantitative","title":"Tibial Shape Index (Imax/Imin)","scale":{"domain":[0.78,4.2],"nice":false,"zero":false},"axis":{"values":[1.0,1.5,2.0,2.5,3.0,3.5,4.0],"format":".1f","labelOverlap":false}}}},
{"data":{"name":"ptsD"},"mark":{"type":"point","filled":false,"size":45,"strokeWidth":1.1,"opacity":1},"encoding":{"x":{"field":"g","type":"nominal","sort":["MUP","LUP","MESO EUR","MESO SIC","NEOL LIG"],"bandPosition":0.756,"title":null},"y":{"field":"v","type":"quantitative","title":"Tibial Shape Index (Imax/Imin)","scale":{"domain":[0.78,4.2],"nice":false,"zero":false},"axis":{"values":[1.0,1.5,2.0,2.5,3.0,3.5,4.0],"format":".1f","labelOverlap":false}},"stroke":{"field":"s","type":"nominal","scale":{"domain":["M","F","U"],"range":["#2266e0","#ef2020","#2ca02c"]},"legend":{"title":null,"legendX":277,"legendY":218,"symbolSize":36,"rowPadding":-6,"labelExpr":"'SEX: ' + datum.label"}},"shape":{"field":"s","type":"nominal","scale":{"domain":["M","F","U"],"range":["triangle-up","circle","square"]},"legend":{"title":null,"legendX":277,"legendY":218,"symbolSize":36,"rowPadding":-6,"labelExpr":"'SEX: ' + datum.label"}}}}
]}
],
"config":{
"font":"Liberation Sans",
"view":{"stroke":"#8a8a8a","strokeWidth":1},
"axis":{"labelFontSize":7.5,"labelColor":"#333333","titleFontSize":7.5,"titleFontWeight":"normal","titleColor":"#333333","domain":false,"tickColor":"#666666","tickSize":2,"gridColor":"#e8e8e8","labelOverlap":false},
"axisX":{"grid":false,"labelAngle":0,"labelPadding":2,"tickSize":3},
"axisY":{"labelPadding":1,"titlePadding":3},
"legend":{"orient":"none","labelFontSize":7.5,"labelColor":"#333333","rowPadding":-6,"padding":0,"labelOffset":3,"symbolStrokeWidth":1.2,"symbolSize":36},
"title":{"fontSize":20,"fontWeight":"bold","anchor":"start","frame":"bounds","color":"#000000","offset":-10.5,"dx":-3}
}
}
